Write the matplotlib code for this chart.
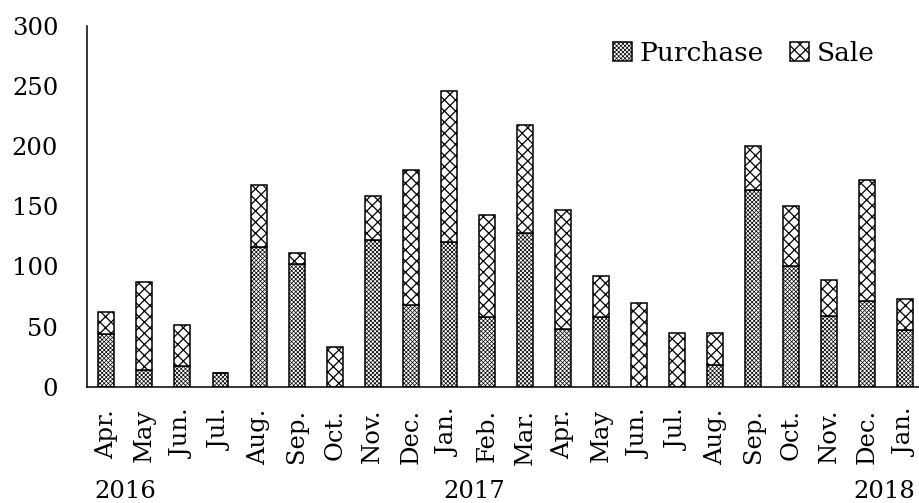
import numpy as np
import matplotlib
matplotlib.use("Agg")
import matplotlib.pyplot as plt

months = ["Apr.", "May", "Jun.", "Jul.", "Aug.", "Sep.", "Oct.", "Nov.", "Dec.", "Jan.", "Feb.",
          "Mar.", "Apr.", "May", "Jun.", "Jul.", "Aug.", "Sep.", "Oct.", "Nov.", "Dec.", "Jan."]
purchase = [44, 14, 17, 11, 116, 102, 0, 122, 68, 120, 58,
            128, 48, 58, 0, 0, 18, 164, 100, 59, 71, 47]
sale = [18, 73, 34, 0, 52, 9, 33, 37, 112, 126, 85,
        90, 99, 34, 70, 45, 27, 36, 50, 30, 101, 26]
years = ["2016", "2017", "2018"]
year_pos = [0.5, 9.68, 20.43]

plt.rcParams["font.family"] = "DejaVu Serif"
plt.rcParams["font.size"] = 17.5
plt.rcParams["hatch.linewidth"] = 0.9

fig = plt.figure(figsize=(9.2, 5.03), dpi=100)
ax = fig.add_axes([0.0949, 0.2312, 0.91, 0.717])

x = np.arange(len(months))
b1 = ax.bar(x, purchase, width=0.42, color="white", edgecolor="black", linewidth=1.1,
            hatch="xxxxxxxx", label="Purchase")
b2 = ax.bar(x, sale, width=0.42, bottom=purchase, color="white", edgecolor="black",
            linewidth=1.1, hatch="xxx", label="Sale")
# lighter texture for purchase, if this matplotlib allows it per bar
for p in b1:
    if hasattr(p, "set_hatch_linewidth"):
        p.set_hatch_linewidth(0.5)

ax.set_xlim(-0.5, 21.5)
ax.set_ylim(0, 300)
ax.set_yticks(range(0, 301, 50))
ax.set_xticks(x, months, rotation=90)
ax.tick_params(length=0)
ax.tick_params(axis="y", pad=21)
ax.tick_params(axis="x", pad=16)
for s in ["top", "right"]:
    ax.spines[s].set_visible(False)
for s in ["left", "bottom"]:
    ax.spines[s].set_linewidth(1.1)

trans = ax.get_xaxis_transform()
for yr, p in zip(years, year_pos):
    ax.text(p, -0.29, yr, transform=trans, ha="center", va="center")

leg = ax.legend(loc="upper right", bbox_to_anchor=(0.965, 0.945), bbox_transform=fig.transFigure,
                ncol=2, frameon=False, handlelength=0.7, handleheight=0.7,
                handletextpad=0.3, columnspacing=1.0, borderpad=0, fontsize=19)
for h in leg.legend_handles[:1]:
    if hasattr(h, "set_hatch_linewidth"):
        h.set_hatch_linewidth(0.5)

fig.savefig("out.png", dpi=100)
